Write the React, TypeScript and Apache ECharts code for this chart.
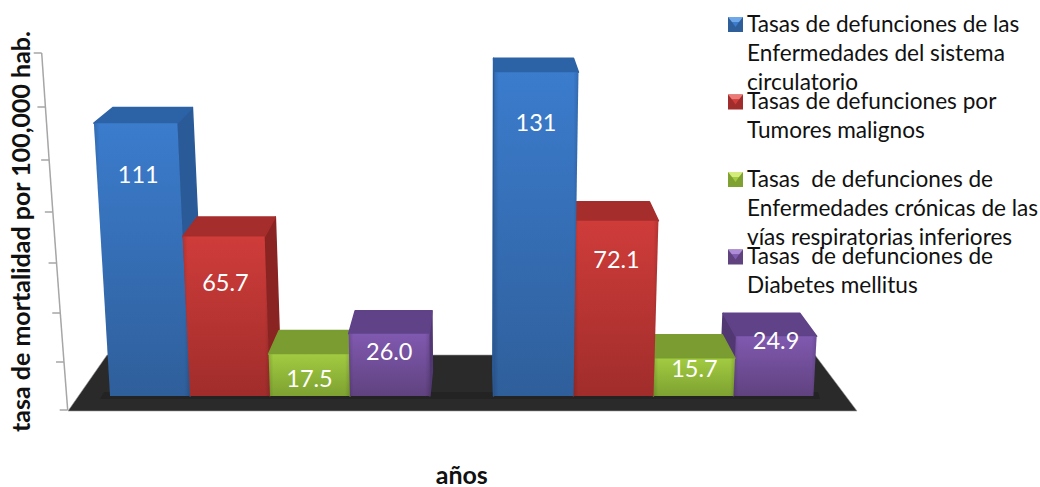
import React, { useEffect, useRef } from "react";
import * as echarts from "echarts";

const categories = ["Periodo 1", "Periodo 2"];
const circulatorio = [111, 131];
const tumores = [65.7, 72.1];
const respiratorias = [17.5, 15.7];
const diabetes = [26.0, 24.9];
const circulatorioLabels = ["111", "131"];
const tumoresLabels = ["65.7", "72.1"];
const respiratoriasLabels = ["17.5", "15.7"];
const diabetesLabels = ["26.0", "24.9"];
const tickValues = [0, 20, 40, 60, 80, 100, 120, 140];
const seriesNames = [
  "Tasas de defunciones de las\nEnfermedades del sistema\ncirculatorio",
  "Tasas de defunciones por\nTumores malignos",
  "Tasas  de defunciones de\nEnfermedades crónicas de las\nvías respiratorias inferiores",
  "Tasas  de defunciones de\nDiabetes mellitus",
];
const yTitle = "tasa de mortalidad por 100,000 hab.";
const xTitle = "años";

const FONT = "Lato, sans-serif";
const palette = [
  { top: "#3b7ccd", bottom: "#2f5f9b", cap: "#2c62a6", side: "#2a5b98", hi: "#6fa8e8" },
  { top: "#cf3c3a", bottom: "#a02d2b", cap: "#a52d2b", side: "#8a2422", hi: "#ee7a78" },
  { top: "#a2cb41", bottom: "#7ea131", cap: "#7a9c30", side: "#6a8a2a", hi: "#d3ec7c" },
  { top: "#8059b0", bottom: "#60427f", cap: "#5f4288", side: "#523873", hi: "#ad8cd8" },
];
// label drop beneath the bar's front top edge, in px, [period 1, period 2]
const labelDrops = [[51, 50], [45, 38], [24, 10], [17, 4]];

const VX = 479;
const LEAN = 0.000161;
const DEPTH_X = 0.05;
const DEPTH_Y = 0.034;
const VY = -340;

const labelSets = [circulatorioLabels, tumoresLabels, respiratoriasLabels, diabetesLabels];
const valueSets = [circulatorio, tumores, respiratorias, diabetes];

function lean(x: number, h: number) {
  return x + (x - VX) * LEAN * h;
}
function back(p: number[]) {
  return [p[0] + (VX - p[0]) * DEPTH_X, p[1] - DEPTH_Y * (p[1] - VY)];
}

function makeBarRender(si: number) {
  return (params: any, api: any) => {
    const cat = api.value(0);
    const val = api.value(1);
    const c = palette[si];
    const base = api.coord([cat, 0]);
    const topP = api.coord([cat, val]);
    const band = api.size([1, 0])[0];
    const bw = band * 0.2085;
    const l0 = base[0] - 2 * bw + si * bw;
    const r0 = l0 + bw;
    const y0 = base[1];
    // Taller bars come nearer the viewer, so their tops stretch a little.
    const y1 = topP[1] - (-0.04 * val + 0.0007 * val * val);
    const h = y0 - y1;
    const fbl = [l0, y0];
    const fbr = [r0, y0];
    const ftl = [lean(l0, h), y1];
    const ftr = [lean(r0, h), y1];
    const btl = back(ftl);
    const btr = back(ftr);
    const children: any[] = [];
    // Left group paints left to right; right group paints right to left.
    const order = cat === 0 ? si : 3 - si;
    let k = 0;
    const poly = (points: number[][], style: any) => ({
      type: "polygon",
      z2: order * 10 + k++,
      shape: { points },
      style,
    });
    const solid = (fill: string) => ({
      fill,
      stroke: fill,
      lineWidth: 1.5,
      lineJoin: "round",
    });
    if (r0 < VX) children.push(poly([ftr, btr, back(fbr), fbr], solid(c.side)));
    if (l0 > VX) children.push(poly([ftl, btl, back(fbl), fbl], solid(c.side)));
    children.push(poly([ftl, btl, btr, ftr], solid(c.cap)));
    children.push(
      poly([ftl, ftr, fbr, fbl], {
        fill: {
          type: "linear", x: 0, y: 0, x2: 0, y2: 1,
          colorStops: [
            { offset: 0, color: c.top },
            { offset: 1, color: c.bottom },
          ],
        },
      })
    );
    children.push(
      poly([ftl, ftr, fbr, fbl], {
        fill: {
          type: "linear", x: 0, y: 0, x2: 1, y2: 0,
          colorStops: [
            { offset: 0, color: "rgba(0,0,0,0.14)" },
            { offset: 0.06, color: "rgba(0,0,0,0)" },
            { offset: 0.94, color: "rgba(0,0,0,0)" },
            { offset: 1, color: "rgba(0,0,0,0.14)" },
          ],
        },
      })
    );
    const ly = y1 + labelDrops[si][cat];
    const lh = y0 - ly;
    const lx = lean((l0 + r0) / 2, lh);
    children.push({
      type: "text",
      z2: 100,
      style: {
        text: labelSets[si][cat],
        x: lx,
        y: ly,
        fill: "#ffffff",
        fontSize: 23.5,
        fontFamily: FONT,
        align: "center",
        verticalAlign: "middle",
      },
    });
    return { type: "group", children };
  };
}

function axisRender(params: any, api: any) {
  const v = api.value(0);
  const p = api.coord([1 - v / 140, v]);
  const sag = 0.00125 * v * (140 - v);
  const y = p[1] + sag;
  const x = p[0];
  const children: any[] = [
    {
      type: "line",
      shape: { x1: x - 8, y1: y, x2: x, y2: y },
      style: { stroke: "#a6a6a6", lineWidth: 1.5 },
    },
  ];
  if (v < 140) {
    const nv = v + 20;
    const q = api.coord([1 - nv / 140, nv]);
    children.push({
      type: "line",
      shape: { x1: x, y1: y, x2: q[0], y2: q[1] + 0.00125 * nv * (140 - nv) },
      style: { stroke: "#a6a6a6", lineWidth: 1.5 },
    });
  }
  return { type: "group", children };
}

function legendGraphics() {
  const out: any[] = [];
  seriesNames.forEach((name, i) => {
    const y = 24 + i * 77.5;
    const c = palette[i];
    const x0 = 728;
    const y0 = y - 7;
    const s = 15;
    out.push({ type: "rect", shape: { x: x0, y: y0, width: s, height: s }, style: { fill: c.bottom } });
    out.push({
      type: "polygon",
      shape: { points: [[x0, y0], [x0 + s, y0], [x0 + s - 4, y0 + 5], [x0 + 4, y0 + 5]] },
      style: { fill: c.hi },
    });
    out.push({
      type: "polygon",
      shape: { points: [[x0 + 4, y0 + 5], [x0 + s - 4, y0 + 5], [x0 + s / 2, y0 + 10]] },
      style: { fill: c.top },
    });
    out.push({
      type: "text",
      style: {
        text: name,
        x: 747,
        y: y - 15.5,
        fill: "#111111",
        fontSize: 22.6,
        lineHeight: 29,
        fontFamily: FONT,
        align: "left",
        verticalAlign: "top",
      },
    });
  });
  return out;
}

export default function App() {
  const ref = useRef<HTMLDivElement>(null);
  useEffect(() => {
    const chart = echarts.init(ref.current!, undefined, { renderer: "svg" });
    chart.setOption({
      animation: false,
      backgroundColor: "#ffffff",
      grid: [
        { left: 78.25, width: 767, top: 57.2, height: 338.8, outerBoundsMode: "none" },
        { left: 41.7, width: 26, top: 53, height: 357, outerBoundsMode: "none" },
      ],
      xAxis: [
        {
          type: "category",
          gridIndex: 0,
          data: categories,
          name: xTitle,
          nameLocation: "middle",
          nameGap: 65,
          nameTextStyle: { fontSize: 25, fontWeight: "bold", fontFamily: FONT, color: "#111" },
          axisLine: { show: false },
          axisTick: { show: false },
          axisLabel: { show: false },
        },
        { type: "value", gridIndex: 1, min: 0, max: 1, show: false },
      ],
      yAxis: [
        { type: "value", gridIndex: 0, min: 0, max: 140, interval: 20, show: false },
        {
          type: "value",
          gridIndex: 1,
          min: 0,
          max: 140,
          interval: 20,
          name: yTitle,
          nameLocation: "middle",
          nameGap: 9,
          nameRotate: 90,
          nameTextStyle: { fontSize: 25, fontWeight: "bold", fontFamily: FONT, color: "#111" },
          axisLine: { show: false },
          axisTick: { show: false },
          axisLabel: { show: false },
          splitLine: { show: false },
        },
      ],
      graphic: [
        {
          type: "polygon",
          shape: { points: [[107, 355], [815, 355], [857, 411], [68, 411]] },
          style: { fill: "#2a2a2a", stroke: "#9a9a9a", lineWidth: 0.6 },
        },
        {
          type: "polygon",
          shape: { points: [[104, 392], [818, 392], [820, 399], [100, 399]] },
          style: { fill: "#232323" },
        },
        ...legendGraphics(),
      ],
      series: [
        ...valueSets.map((vals, si) => ({
          type: "custom",
          name: seriesNames[si],
          xAxisIndex: 0,
          yAxisIndex: 0,
          clip: false,
          renderItem: makeBarRender(si),
          encode: { x: 0, y: 1 },
          data: vals.map((v, i) => [i, v]),
        })),
        {
          type: "custom",
          name: "eje",
          xAxisIndex: 1,
          yAxisIndex: 1,
          clip: false,
          renderItem: axisRender,
          data: tickValues.map((v) => [v]),
          encode: { y: 0 },
        },
      ],
    });
    return () => chart.dispose();
  }, []);
  return <div ref={ref} style={{ position: "fixed", left: 0, top: 0, width: 1040, height: 487 }} />;
}
